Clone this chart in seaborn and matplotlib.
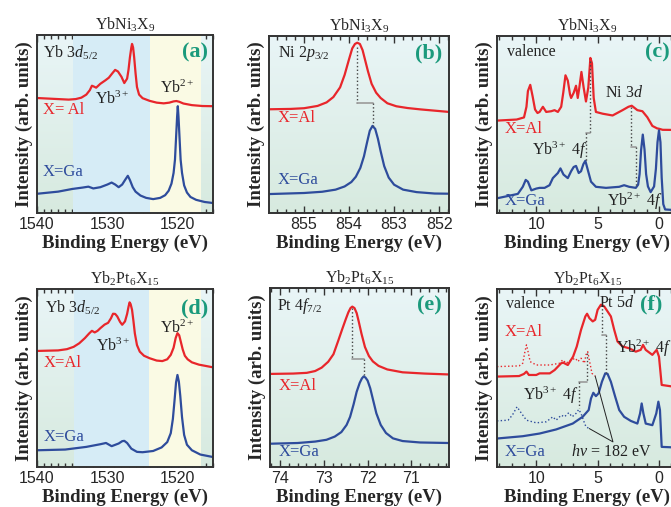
import numpy as np
import matplotlib
matplotlib.use("Agg")
import matplotlib.pyplot as plt
import seaborn as sns
from matplotlib.colors import LinearSegmentedColormap
from matplotlib.ticker import MultipleLocator

# ---- data (intensity in arb. units, 0-100 per panel) ----
# (a) YbNi3X9, Yb 3d5/2
a_al_e = [1540, 1537, 1535.5, 1534.5, 1533.7, 1533.0, 1532.5, 1532.2, 1531.9, 1531.6,
          1531.0, 1530.3, 1529.8, 1529.3, 1528.9, 1528.5, 1528.0, 1527.6, 1527.2, 1527.0,
          1526.8, 1526.6, 1526.5, 1526.35, 1526.2, 1526.0, 1525.8, 1525.5, 1525.0, 1524.0,
          1523.0, 1522.0, 1521.2, 1520.6, 1520.2, 1519.8, 1519.2, 1518.0, 1516.5, 1515]
a_al_i = [64.6, 64.0, 63.7, 64.0, 64.8, 66.5, 69.0, 71.5, 71.0, 70.4,
          72.6, 74.5, 76.0, 78.5, 80.4, 79.5, 76.5, 73.0, 75.5, 80.5,
          87.5, 93.0, 95.0, 93.0, 87.5, 78.5, 70.8, 66.5, 64.5, 63.0,
          62.0, 61.6, 62.0, 62.7, 62.9, 62.5, 61.5, 60.6, 60.1, 60.0]
a_ga_e = [1540, 1537, 1535, 1533.5, 1532.7, 1532.0, 1531.0, 1530.0, 1529.4, 1528.9,
          1528.4, 1527.9, 1527.5, 1527.1, 1526.8, 1526.4, 1526.0, 1525.3, 1524.5, 1523.5,
          1522.5, 1521.8, 1521.3, 1520.9, 1520.6, 1520.4, 1520.25, 1520.1, 1520.0, 1519.9,
          1519.75, 1519.6, 1519.4, 1519.1, 1518.7, 1518.2, 1517.4, 1516.2, 1515]
a_ga_i = [10.8, 12.0, 13.5, 14.3, 14.8, 13.8, 14.5, 16.0, 17.1, 16.0,
          14.5, 16.0, 18.5, 20.9, 18.5, 14.5, 12.0, 9.8, 8.5, 7.8,
          8.5, 10.0, 12.5, 16.5, 22.5, 30.0, 42.0, 54.0, 60.0, 54.0,
          42.0, 30.0, 22.5, 15.5, 11.5, 9.0, 7.4, 6.2, 5.6]

# (b) YbNi3X9, Ni 2p3/2
b_al_e = [855.78, 855.3, 855.0, 854.7, 854.5, 854.35, 854.2, 854.1, 854.0, 853.93, 853.87,
          853.82, 853.76, 853.7, 853.64, 853.58, 853.5, 853.4, 853.3, 853.15, 852.95,
          852.7, 852.4, 852.0, 851.78]
b_al_i = [58.6, 58.8, 59.2, 60.5, 62.5, 65.5, 71.0, 78.0, 87.0, 93.0, 95.5,
          96.2, 95.5, 92.0, 86.0, 80.0, 73.0, 68.0, 65.0, 62.0, 60.3,
          59.3, 58.5, 57.6, 57.1]
b_ga_e = [855.78, 855.0, 854.6, 854.3, 854.1, 853.95, 853.85, 853.75, 853.67, 853.6,
          853.54, 853.48, 853.42, 853.36, 853.3, 853.22, 853.12, 853.0, 852.8, 852.5,
          852.1, 851.78]
b_ga_i = [10.7, 11.3, 12.0, 13.2, 15.0, 17.5, 20.5, 25.5, 32.0, 40.0,
          46.5, 49.2, 47.5, 42.0, 35.0, 26.5, 20.0, 16.0, 13.2, 11.8,
          11.0, 10.9]

# (c) YbNi3X9, valence band
c_al_e = [13.2, 11.6, 11.0, 10.8, 10.68, 10.49, 10.3, 10.1, 9.9, 9.73,
          9.46, 9.19, 8.78, 8.51, 8.24, 7.97, 7.8, 7.62, 7.43, 7.25,
          7.16, 6.95, 6.76, 6.62, 6.49, 6.32, 6.14, 5.95, 5.76, 5.59,
          5.46, 5.32, 5.14, 4.59, 3.78, 2.97, 2.49, 2.22, 1.76, 1.35,
          0.95, 0.54, 0.15, 0.0, -0.3, -1.6]
c_al_i = [52.2, 52.8, 54.0, 60.0, 68.9, 72.4, 66.0, 58.5, 56.5, 57.1,
          60.0, 57.1, 57.5, 58.1, 57.1, 60.0, 68.0, 77.8, 74.8, 67.0,
          65.0, 67.9, 71.9, 65.0, 70.9, 79.7, 70.9, 63.0, 70.9, 87.6,
          84.6, 65.0, 57.1, 56.1, 55.1, 58.1, 60.0, 60.6, 58.1, 57.5,
          54.1, 49.2, 47.8, 47.6, 47.0, 46.9]
c_ga_e = [13.2, 11.5, 11.1, 10.86, 10.68, 10.4, 10.0, 9.73, 9.32, 8.92,
          8.65, 8.24, 8.03, 7.78, 7.43, 7.16, 6.95, 6.76, 6.54, 6.35,
          6.16, 6.0, 5.81, 5.54, 5.14, 4.32, 3.24, 2.84, 2.43, 1.89,
          1.7, 1.58, 1.46, 1.32, 1.18, 1.05, 0.9, 0.68, 0.4, 0.25,
          0.12, 0.0, -0.12, -0.22, -0.35, -0.5, -1.6]
c_ga_i = [8.3, 10.8, 14.8, 18.7, 17.7, 12.8, 13.8, 14.2, 14.2, 15.7,
          19.7, 22.6, 25.2, 21.7, 19.7, 23.6, 26.0, 26.6, 22.6, 23.6,
          27.6, 29.5, 24.6, 17.7, 14.8, 14.2, 14.8, 15.7, 14.8, 14.2,
          16.0, 22.0, 35.4, 44.3, 36.0, 22.0, 15.0, 11.8, 15.0, 25.0,
          40.0, 46.7, 40.0, 20.0, 5.0, 2.0, 1.5]

# (d) Yb2Pt6X15, Yb 3d5/2
d_al_e = [1540, 1537, 1535.75, 1534.8, 1534.0, 1533.2, 1532.6, 1532.2, 1531.8, 1531.4,
          1531.0, 1530.4, 1529.9, 1529.5, 1529.2, 1528.9, 1528.6, 1528.2, 1527.9, 1527.5,
          1527.2, 1527.0, 1526.85, 1526.7, 1526.5, 1526.3, 1526.1, 1525.8, 1525.4, 1524.8,
          1524.0, 1523.0, 1522.2, 1521.5, 1521.0, 1520.6, 1520.3, 1520.05, 1519.8, 1519.55,
          1519.3, 1519.0, 1518.6, 1518.0, 1517.0, 1515]
d_al_i = [65.2, 65.5, 66.2, 67.5, 69.5, 72.4, 75.0, 76.5, 75.6, 76.5,
          78.0, 80.0, 81.0, 83.5, 86.1, 86.0, 84.6, 81.5, 79.9, 81.8,
          86.0, 90.0, 92.5, 91.5, 88.3, 82.0, 75.0, 68.5, 64.8, 62.5,
          61.1, 59.8, 59.5, 60.5, 63.0, 67.0, 72.5, 75.2, 74.0, 70.0,
          66.0, 62.5, 60.5, 58.8, 57.5, 56.0]
d_ga_e = [1540, 1536, 1533, 1531, 1530.2, 1529.4, 1528.4, 1527.9, 1527.6, 1527.2,
          1526.6, 1525.8, 1525.0, 1523.5, 1522.3, 1521.5, 1521.0, 1520.7, 1520.45, 1520.25,
          1520.05, 1519.85, 1519.65, 1519.4, 1519.1, 1518.7, 1518.0, 1516.8, 1515]
d_ga_i = [9.4, 9.8, 11.3, 12.8, 13.5, 11.7, 13.2, 14.5, 14.7, 13.5,
          10.3, 8.5, 8.3, 9.0, 11.0, 14.0, 19.0, 27.0, 38.0, 47.5,
          51.7, 48.0, 40.0, 28.0, 18.0, 12.5, 9.4, 7.0, 5.6]

# (e) Yb2Pt6X15, Pt 4f7/2
e_al_e = [74.23, 73.7, 73.39, 73.2, 73.05, 72.9, 72.78, 72.67, 72.58, 72.5,
          72.44, 72.39, 72.35, 72.3, 72.25, 72.2, 72.14, 72.06, 71.97, 71.88,
          71.75, 71.55, 71.2, 70.7, 70.14]
e_al_i = [52.0, 52.2, 52.6, 53.6, 55.5, 58.8, 63.0, 70.6, 77.0, 82.5,
          86.4, 88.8, 89.6, 88.8, 86.0, 81.0, 74.5, 67.0, 62.0, 59.0,
          56.5, 54.5, 52.9, 52.2, 51.7]
e_ga_e = [74.23, 73.6, 73.2, 72.94, 72.75, 72.6, 72.48, 72.4, 72.32, 72.25,
          72.18, 72.13, 72.09, 72.05, 72.0, 71.94, 71.88, 71.8, 71.7, 71.58,
          71.42, 71.2, 70.8, 70.14]
e_ga_i = [13.0, 13.4, 14.2, 15.2, 17.0, 19.5, 23.5, 28.0, 35.0, 42.0,
          47.0, 49.5, 50.6, 50.0, 48.3, 44.0, 38.0, 30.0, 23.5, 19.0,
          16.0, 14.5, 13.7, 13.4]

# (f) Yb2Pt6X15, valence band (solid: main, dotted: hv = 182 eV)
f_al_e = [13.2, 11.4, 11.0, 10.8, 10.6, 10.0, 9.73, 8.9, 8.5, 7.97,
          7.8, 7.43, 7.0, 6.7, 6.35, 6.0, 5.86, 5.67, 5.4, 5.2,
          5.0, 4.73, 4.46, 4.19, 3.92, 3.65, 3.38, 2.97, 2.43, 1.89,
          1.49, 1.3, 1.08, 0.54, 0.19, 0.0, -0.22, -1.6]
f_al_i = [50.8, 51.1, 52.3, 53.6, 51.7, 51.7, 52.6, 52.6, 54.5, 58.3,
          58.6, 57.3, 62.0, 67.7, 77.1, 84.6, 86.1, 83.6, 81.8, 82.7,
          88.3, 91.2, 90.2, 87.4, 84.6, 77.1, 70.5, 67.7, 66.7, 64.8,
          65.8, 68.6, 65.8, 63.0, 65.8, 62.0, 46.1, 44.7]
f_al182_e = [13.2, 11.4, 11.1, 10.95, 10.8, 10.7, 10.5, 10.0, 8.9, 8.1,
             7.84, 7.57, 7.16, 6.8, 6.62, 6.35, 6.08, 5.95, 5.81, 5.68,
             5.46, 5.2]
f_al182_i = [56.4, 56.8, 58.3, 63.9, 68.6, 65.8, 59.2, 57.3, 57.3, 58.3,
             60.2, 58.3, 60.2, 61.1, 59.2, 61.1, 58.3, 63.0, 64.8, 60.2,
             52.6, 51.1]
f_ga_e = [13.2, 11.1, 9.73, 8.38, 7.03, 6.22, 5.73, 5.54, 5.35, 5.14,
          4.92, 4.65, 4.38, 4.19, 3.92, 3.57, 3.24, 2.84, 2.3, 1.76,
          1.54, 1.41, 1.27, 1.08, 0.54, 0.22, 0.05, -0.08, -0.22, -1.6]
f_ga_i = [16.0, 17.3, 18.8, 21.1, 24.4, 28.2, 32.0, 38.5, 41.7, 39.8,
          41.4, 47.9, 52.6, 52.3, 47.9, 39.5, 32.0, 28.2, 25.9, 24.4,
          30.1, 35.7, 30.1, 24.4, 23.5, 30.1, 36.7, 32.0, 11.3, 10.9]
f_ga182_e = [13.2, 12.3, 11.95, 11.57, 11.2, 10.8, 10.0, 9.19, 8.65, 8.38,
             7.97, 7.7, 7.35, 7.08, 6.76, 6.54, 6.35, 6.16, 5.95, 5.68]
f_ga182_i = [25.9, 26.3, 29.1, 33.8, 30.1, 26.3, 24.8, 25.4, 28.2, 26.3,
             29.1, 28.2, 30.5, 28.2, 30.1, 32.3, 30.1, 26.3, 22.6, 21.6]

# peak-shift guides: (E upper, E lower, I top, I step, I bottom)
b_guide = (853.82, 853.48, 94.0, 62.0, 49.2)
c_guide_yb = (5.59, 5.95, 86.0, 45.3, 29.5)
c_guide_ni = (2.30, 1.89, 60.0, 37.4, 15.7)
e_guide = (72.35, 72.09, 89.0, 60.4, 50.6)
f_guide_pt = (4.65, 4.29, 91.0, 74.2, 52.6)
f_guide_yb = (5.84, 6.52, 64.0, 47.9, 32.9)

# ---- style ----
sns.set_style("ticks")
plt.rcParams["font.family"] = ["Liberation Serif", "DejaVu Serif"]
plt.rcParams["mathtext.fontset"] = "custom"
plt.rcParams["mathtext.rm"] = "Liberation Serif"
plt.rcParams["mathtext.it"] = "Liberation Serif:italic"
plt.rcParams["mathtext.bf"] = "Liberation Serif:bold"

RED = "#e8262b"
BLUE = "#2e4c9c"
TEAL = "#1b9a7c"
FRAME = "#333333"
bg_cmap = LinearSegmentedColormap.from_list("bg", ["#e9f5f7", "#d7eadf"])
BAND_BLUE = "#d6ecf6"
BAND_YEL = "#fafae4"

W, H = 671, 507
fig = plt.figure(figsize=(W / 100, H / 100), dpi=100)


def make_ax(left, top, width, height):
    return fig.add_axes([left / W, 1 - (top + height) / H, width / W, height / H])


def setup(ax, xlim, major, minor, title):
    grad = np.linspace(0, 1, 256).reshape(-1, 1)
    ax.imshow(grad, extent=[0, 1, 0, 1], transform=ax.transAxes, aspect="auto",
              cmap=bg_cmap, zorder=0)
    ax.set_xlim(*xlim)
    ax.set_ylim(0, 100)
    ax.xaxis.set_major_locator(MultipleLocator(major))
    ax.xaxis.set_minor_locator(MultipleLocator(minor))
    ax.set_yticks([])
    ax.tick_params(axis="x", which="both", direction="in", top=True, bottom=True,
                   color=FRAME, width=1, labelsize=11.5, pad=3,
                   labelfontfamily="Liberation Sans")
    ax.tick_params(axis="x", which="major", length=5)
    ax.tick_params(axis="x", which="minor", length=3)
    for s in ax.spines.values():
        s.set_color(FRAME)
        s.set_linewidth(1.4)
        s.set_zorder(5)
    ax.set_xlabel("Binding Energy (eV)", fontsize=13.5, fontweight="bold", labelpad=2)
    ax.set_ylabel("Intensity (arb. units)", fontsize=13.5, fontweight="bold", labelpad=3)
    ax.set_title(title, fontsize=11.5, pad=4)


def curve(ax, e, i, color, ls="-", lw=1.6):
    sns.lineplot(x=e, y=i, ax=ax, color=color, lw=lw, ls=ls, sort=False,
                 estimator=None, zorder=3)


def step_guide(ax, g):
    e1, e2, top, mid, bot = g
    ax.plot([e1, e1], [top, mid], ls=":", color="#444444", lw=1.0, zorder=4)
    ax.plot([e1, e2], [mid, mid], ls="-", color="#9a9a9a", lw=1.2, zorder=4)
    ax.plot([e2, e2], [mid, bot], ls=":", color="#444444", lw=1.0, zorder=4)


def txt(ax, x, y, s, color="#222222", size=11.5, ha="left", **kw):
    ax.text(x, y, s, transform=ax.transAxes, color=color, fontsize=size, ha=ha,
            va="center", zorder=6, **kw)


def letter(ax, x, s, ha="right", y=0.9):
    txt(ax, x, y, s, color=TEAL, size=16, ha=ha, fontweight="bold")


T1 = "YbNi$_3$X$_9$"
T2 = "Yb$_2$Pt$_6$X$_{15}$"

# (a)
ax = make_ax(37, 35, 176, 178)
setup(ax, (1540, 1515), 10, 1, T1)
ax.axvspan(1534.9, 1523.9, color=BAND_BLUE, lw=0, zorder=1)
ax.axvspan(1523.9, 1516.75, color=BAND_YEL, lw=0, zorder=1)
curve(ax, a_al_e, a_al_i, RED)
curve(ax, a_ga_e, a_ga_i, BLUE)
txt(ax, 0.034, 0.9, "Yb 3$d_{5/2}$")
letter(ax, 0.97, "(a)")
txt(ax, 0.426, 0.64, "Yb$^{3+}$", ha="center")
txt(ax, 0.795, 0.70, "Yb$^{2+}$", ha="center")
txt(ax, 0.034, 0.58, "X= Al", color=RED, size=12)
txt(ax, 0.034, 0.23, "X=Ga", color=BLUE, size=12)

# (b)
ax = make_ax(269, 36, 180, 177)
setup(ax, (855.78, 851.78), 1, 0.2, T1)
curve(ax, b_al_e, b_al_i, RED)
curve(ax, b_ga_e, b_ga_i, BLUE)
step_guide(ax, b_guide)
txt(ax, 0.05, 0.9, "Ni 2$p_{3/2}$")
letter(ax, 0.96, "(b)")
txt(ax, 0.05, 0.537, "X=Al", color=RED, size=12)
txt(ax, 0.05, 0.186, "X=Ga", color=BLUE, size=12)

# (c)
ax = make_ax(497, 36, 181, 177)
setup(ax, (13.2, -1.55), 5, 1, T1)
curve(ax, c_al_e, c_al_i, RED)
curve(ax, c_ga_e, c_ga_i, BLUE)
step_guide(ax, c_guide_yb)
step_guide(ax, c_guide_ni)
txt(ax, 0.055, 0.91, "valence")
letter(ax, 0.818, "(c)", ha="left", y=0.905)
txt(ax, 0.597, 0.68, "Ni 3$d$")
txt(ax, 0.193, 0.355, "Yb$^{3+}$ 4$f$")
txt(ax, 0.044, 0.475, "X=Al", color=RED, size=12)
txt(ax, 0.044, 0.065, "X=Ga", color=BLUE, size=12)
txt(ax, 0.608, 0.065, "Yb$^{2+}$ 4$f$")

# (d)
ax = make_ax(37, 289, 176, 178)
setup(ax, (1540, 1515), 10, 1, T2)
ax.axvspan(1534.8, 1524.1, color=BAND_BLUE, lw=0, zorder=1)
ax.axvspan(1524.1, 1516.7, color=BAND_YEL, lw=0, zorder=1)
curve(ax, d_al_e, d_al_i, RED)
curve(ax, d_ga_e, d_ga_i, BLUE)
txt(ax, 0.045, 0.893, "Yb 3$d_{5/2}$")
letter(ax, 0.972, "(d)", y=0.893)
txt(ax, 0.433, 0.677, "Yb$^{3+}$", ha="center")
txt(ax, 0.795, 0.78, "Yb$^{2+}$", ha="center")
txt(ax, 0.035, 0.586, "X=Al", color=RED, size=12)
txt(ax, 0.035, 0.169, "X=Ga", color=BLUE, size=12)

# (e)
ax = make_ax(270, 288, 179, 179)
setup(ax, (74.23, 70.14), 1, 0.2, T2)
curve(ax, e_al_e, e_al_i, RED)
curve(ax, e_ga_e, e_ga_i, BLUE)
step_guide(ax, e_guide)
txt(ax, 0.041, 0.9, "Pt 4$f_{7/2}$")
letter(ax, 0.957, "(e)")
txt(ax, 0.046, 0.455, "X=Al", color=RED, size=12)
txt(ax, 0.046, 0.084, "X=Ga", color=BLUE, size=12)

# (f)
ax = make_ax(497, 289, 181, 178)
setup(ax, (13.2, -1.55), 5, 1, T2)
curve(ax, f_al182_e, f_al182_i, RED, ls=":", lw=1.0)
curve(ax, f_ga182_e, f_ga182_i, BLUE, ls=":", lw=1.0)
curve(ax, f_al_e, f_al_i, RED)
curve(ax, f_ga_e, f_ga_i, BLUE)
step_guide(ax, f_guide_pt)
step_guide(ax, f_guide_yb)
ax.plot([f_ga182_e[-1], 3.75, f_al182_e[-1]], [f_ga182_i[-1], 14.1, f_al182_i[-1]],
        color="#222222", lw=0.7, zorder=4)
txt(ax, 0.052, 0.917, "valence")
txt(ax, 0.564, 0.921, "Pt 5$d$")
letter(ax, 0.788, "(f)", ha="left", y=0.915)
txt(ax, 0.042, 0.761, "X=Al", color=RED, size=12)
txt(ax, 0.659, 0.667, "Yb$^{2+}$ 4$f$")
txt(ax, 0.144, 0.404, "Yb$^{3+}$ 4$f$")
txt(ax, 0.042, 0.085, "X=Ga", color=BLUE, size=12)
txt(ax, 0.411, 0.085, "$h\\nu$ = 182 eV")

fig.savefig("out.png", dpi=100)
